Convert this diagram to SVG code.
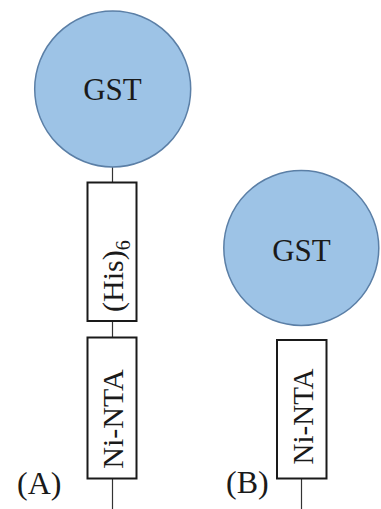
<svg xmlns="http://www.w3.org/2000/svg" width="381" height="509" viewBox="0 0 381 509">
<style>
.bg{fill:#ffffff}
.gst{fill:#9dc3e6;stroke:#5b7fa6;stroke-width:1.5}
.box{fill:#ffffff;stroke:#1a1a1a;stroke-width:2}
.ln{stroke:#333333;stroke-width:1.2;fill:none}
text{font-family:'Liberation Serif','Times New Roman',serif;fill:#1a1a1a}
</style>
<rect class="bg" x="0" y="0" width="381" height="509"/>
<g id="connectors">
<line class="ln" x1="112.5" y1="167" x2="112.5" y2="182.5"/>
<line class="ln" x1="112.5" y1="321" x2="112.5" y2="337.5"/>
<line class="ln" x1="112.5" y1="478.5" x2="112.5" y2="509"/>
<line class="ln" x1="301.5" y1="478.5" x2="301.5" y2="509"/>
</g>
<g id="gstA">
<circle class="gst" cx="112.7" cy="89" r="78"/>
<text x="112.5" y="99.5" text-anchor="middle" font-family="Liberation Serif, serif" font-size="31">GST</text>
</g>
<g id="hisA">
<rect class="box" x="87.5" y="182.5" width="49" height="138.5"/>
<text transform="translate(122.5,312) rotate(-90)" font-family="Liberation Serif, serif" font-size="30">(His)<tspan font-size="20" dy="7">6</tspan></text>
</g>
<g id="ntaA">
<rect class="box" x="87.5" y="337.5" width="49" height="141"/>
<text transform="translate(123,419) rotate(-90)" text-anchor="middle" font-family="Liberation Serif, serif" font-size="30">Ni-NTA</text>
</g>
<g id="gstB">
<circle class="gst" cx="301.3" cy="248" r="77.5"/>
<text x="301.5" y="261" text-anchor="middle" font-family="Liberation Serif, serif" font-size="31">GST</text>
</g>
<g id="ntaB">
<rect class="box" x="277" y="340" width="49.5" height="138.5"/>
<text transform="translate(312.5,416.5) rotate(-90)" text-anchor="middle" font-family="Liberation Serif, serif" font-size="29">Ni-NTA</text>
</g>
<g id="labelA">
<text x="17" y="494" font-family="Liberation Serif, serif" font-size="32">(A)</text>
</g>
<g id="labelB">
<text x="226" y="493" font-family="Liberation Serif, serif" font-size="32">(B)</text>
</g>
</svg>
